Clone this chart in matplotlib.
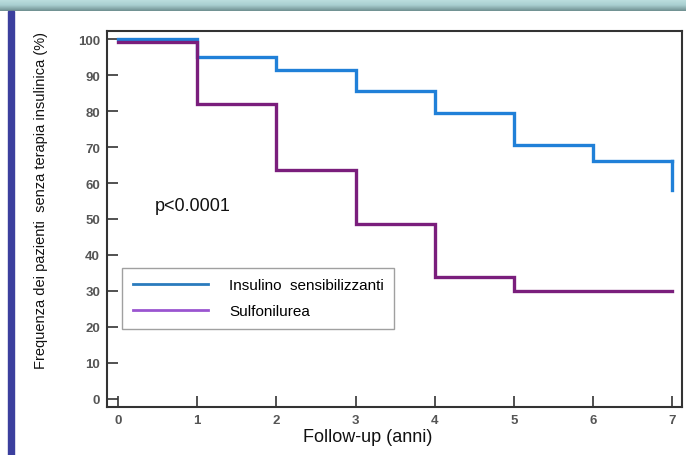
import matplotlib
matplotlib.use("Agg")
import matplotlib.pyplot as plt
import numpy as np
from matplotlib.lines import Line2D
from matplotlib.colors import LinearSegmentedColormap

plt.rcParams['font.family'] = ['Liberation Sans', 'DejaVu Sans']

years = [0, 1, 2, 3, 4, 5, 6, 7]
insulino = [100, 95, 91.5, 85.5, 79.5, 70.5, 66, 66]
insulino_end = 58
sulfo = [99.3, 82, 63.5, 48.5, 34, 30, 30, 30]
yticks = [0, 10, 20, 30, 40, 50, 60, 70, 80, 90, 100]
xticks = [0, 1, 2, 3, 4, 5, 6, 7]
labels = ["Insulino  sensibilizzanti", "Sulfonilurea"]

fig = plt.figure(figsize=(6.86, 4.56), dpi=100)
fig.patch.set_facecolor("white")

# slide decorations
band = fig.add_axes([0, (456 - 12) / 456, 1, 12 / 456])
grad = np.linspace(0, 1, 50).reshape(-1, 1)
cm = LinearSegmentedColormap.from_list("b", ["#6f8f90", "#a9cfd0", "#bfe0e0"])
band.imshow(grad, aspect="auto", cmap=cm, origin="lower", extent=[0, 1, 0, 1])
band.axis("off")
fig.patches.append(plt.Rectangle((8 / 686, 0), 6 / 686, (456 - 12) / 456,
                                 transform=fig.transFigure, color="#3b3f9e", zorder=5))

ax = fig.add_axes([107 / 686, 48 / 456, 575 / 686, 376 / 456])
ax.set_xlim(-0.14, 7.12)
ax.set_ylim(-2.3, 102.3)

blue = "#2080d8"
purple = "#7a1e7c"
ax.step(years, insulino, where="post", color=blue, lw=2.4, solid_joinstyle="miter")
ax.plot([7, 7], [insulino[-1], insulino_end], color=blue, lw=2.4)
ax.step(years, sulfo, where="post", color=purple, lw=2.4, solid_joinstyle="miter")

ax.set_xticks(xticks)
ax.set_yticks(yticks)
ax.tick_params(direction="in", length=8, width=1.2, color="#333333",
               labelsize=9.5, labelcolor="#555555", pad=5)
for lab in ax.get_xticklabels() + ax.get_yticklabels():
    lab.set_fontweight("bold")
for s in ax.spines.values():
    s.set_linewidth(1.5)
    s.set_color("#333333")

ax.set_xlabel("Follow-up (anni)", fontsize=13, color="#111111", labelpad=1)
ax.xaxis.set_label_coords(0.454, -0.055)
ax.set_ylabel("Frequenza dei pazienti  senza terapia insulinica (%)", fontsize=10.5,
              color="#111111")
ax.yaxis.set_label_coords(-0.102, 0.553)

ax.text(0.46, 52.5, "p<0.0001", fontsize=13, color="#111111")

handles = [Line2D([], [], color="#2a7bbd", lw=2),
           Line2D([], [], color="#9a55d0", lw=2)]
leg = ax.legend(handles, labels, loc="lower left", bbox_to_anchor=(0.026, 0.207),
                borderaxespad=0, fontsize=11, frameon=True, fancybox=False,
                handlelength=4.9, handletextpad=1.4, borderpad=0.7, labelspacing=0.8)
leg.get_frame().set_edgecolor("#888888")
leg.get_frame().set_linewidth(1.0)

fig.savefig("out.png", dpi=100)
